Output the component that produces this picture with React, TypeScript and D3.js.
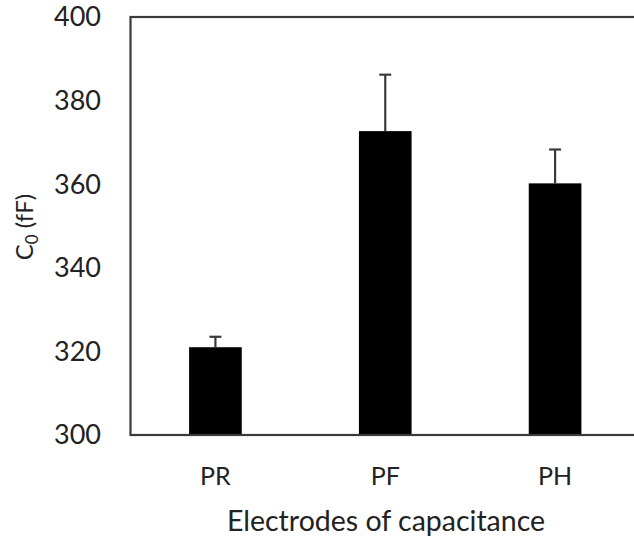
import React from "react";
import * as d3 from "d3";

const categories = ["PR", "PF", "PH"];
const values = [321.0, 372.7, 360.2];
const errors = [2.5, 13.5, 8.1];
const yTicks = [300, 320, 340, 360, 380, 400];

const W = 634, H = 540;
const left = 130.5, right = 640, top = 17, bottom = 435;
const font = "Lato, 'Open Sans', sans-serif";

export default function App() {
  const x = d3.scaleBand<string>().domain(categories).range([left, right]).paddingInner(0.69).paddingOuter(0.345);
  const y = d3.scaleLinear().domain([300, 400]).range([bottom, top]);
  const stroke = "#3a3a3a";
  return (
    <svg width={W} height={H} style={{ position: "absolute", left: 0, top: 0, background: "#fff" }}>
      {categories.map((c, i) => {
        const x0 = x(c)!;
        const cx = x0 + x.bandwidth() / 2;
        return (
          <g key={c}>
            <rect x={x0} y={y(values[i])} width={x.bandwidth()} height={bottom - y(values[i])} fill="#000" />
            <line x1={cx} x2={cx} y1={y(values[i])} y2={y(values[i] + errors[i])} stroke={stroke} strokeWidth={2.2} />
            <line x1={cx - 6} x2={cx + 6} y1={y(values[i] + errors[i])} y2={y(values[i] + errors[i])} stroke={stroke} strokeWidth={2.2} />
            <text x={cx} y={485} textAnchor="middle" fontFamily={font} fontSize={25} fill="#222">{c}</text>
          </g>
        );
      })}
      <rect x={left} y={top} width={right - left} height={bottom - top} fill="none" stroke={stroke} strokeWidth={2.2} />
      {yTicks.map((t) => (
        <text key={t} x={101} y={y(t)} dy="0.35em" textAnchor="end" fontFamily={font} fontSize={27} fill="#222">{t}</text>
      ))}
      <text transform={`translate(33,227) rotate(-90)`} textAnchor="middle" fontFamily={font} fontSize={24} fill="#222">
        C<tspan fontSize={17} dy="5">0</tspan><tspan dy="-5"> (fF)</tspan>
      </text>
      <text x={386} y={531} textAnchor="middle" fontFamily={font} fontSize={28.5} fill="#222">Electrodes of capacitance</text>
    </svg>
  );
}
